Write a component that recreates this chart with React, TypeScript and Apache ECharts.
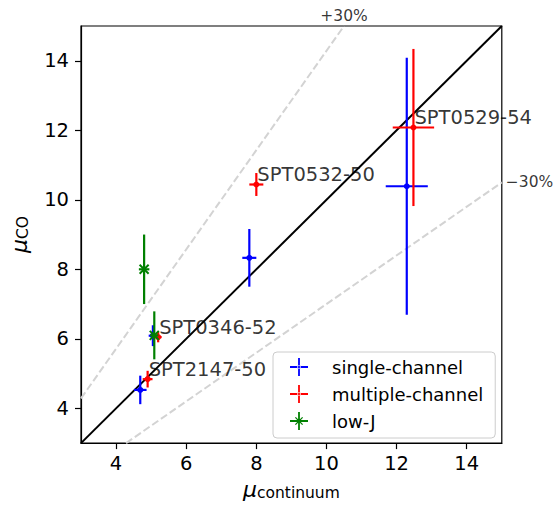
import React, { useEffect, useRef } from "react";
import * as echarts from "echarts";

// Data (x, y, x-error, y-error)
const singleX = [4.69, 5.05, 7.8, 12.29];
const singleY = [4.53, 6.09, 8.33, 10.39];
const singleXErr = [0.18, 0.12, 0.2, 0.6];
const singleYErr = [0.41, 0.3, 0.83, 3.7];

const multiX = [4.9, 5.2, 8.0, 12.48];
const multiY = [4.84, 6.05, 10.44, 12.08];
const multiXErr = [0.14, 0.1, 0.2, 0.59];
const multiYErr = [0.24, 0.15, 0.33, 2.26];

const lowJX = [4.8, 5.09];
const lowJY = [8.0, 6.1];
const lowJXErr = [0.15, 0.12];
const lowJYErr = [1.0, 0.69];

const sourceNames = ["SPT2147-50", "SPT0346-52", "SPT0532-50", "SPT0529-54"];

const tickValues = [4, 6, 8, 10, 12, 14];
const axisMin = 3;
const axisMax = 15;
const refSlopes = [1, 1 / 0.7, 0.7];
const refLabels = ["+30%", "\u221230%"];

const FONT = "DejaVu Sans";

function zip4(a: number[], b: number[], c: number[], d: number[]) {
  return a.map((v, i) => [v, b[i], c[i], d[i]]);
}

function makeErrSeries(name: string, color: string, data: number[][], marker: "dot" | "x") {
  return {
    type: "custom",
    name,
    itemStyle: { color },
    data,
    z: 5,
    renderItem: (params: any, api: any) => {
      const x = api.value(0);
      const y = api.value(1);
      const xe = api.value(2);
      const ye = api.value(3);
      const c = api.coord([x, y]);
      const l = api.coord([x - xe, y]);
      const r = api.coord([x + xe, y]);
      const t = api.coord([x, y + ye]);
      const b = api.coord([x, y - ye]);
      const st = { stroke: color, lineWidth: 2.2 };
      const children: any[] = [
        { type: "line", shape: { x1: l[0], y1: l[1], x2: r[0], y2: r[1] }, style: st },
        { type: "line", shape: { x1: t[0], y1: t[1], x2: b[0], y2: b[1] }, style: st },
      ];
      if (marker === "dot") {
        children.push({ type: "circle", shape: { cx: c[0], cy: c[1], r: 3 }, style: { fill: color } });
      } else {
        const s = 4.5;
        children.push({ type: "line", shape: { x1: c[0] - s, y1: c[1] - s, x2: c[0] + s, y2: c[1] + s }, style: { stroke: color, lineWidth: 2 } });
        children.push({ type: "line", shape: { x1: c[0] - s, y1: c[1] + s, x2: c[0] + s, y2: c[1] - s }, style: { stroke: color, lineWidth: 2 } });
      }
      return { type: "group", children };
    },
  };
}

const plusIcon = "path://M0,9 L20,9 L20,11 L0,11 Z M9,0 L11,0 L11,20 L9,20 Z M8,10 A2,2 0 1 0 12,10 A2,2 0 1 0 8,10 Z";
const starIcon = "path://M0,9 L20,9 L20,11 L0,11 Z M9,0 L11,0 L11,20 L9,20 Z M5.5,6.5 L6.5,5.5 L14.5,13.5 L13.5,14.5 Z M13.5,5.5 L14.5,6.5 L6.5,14.5 L5.5,13.5 Z";

function refLine(s: number) {
  const x0 = Math.max(axisMin, axisMin / s);
  const x1 = Math.min(axisMax, axisMax / s);
  return [
    [x0, x0 * s],
    [x1, x1 * s],
  ];
}

export default function App() {
  const ref = useRef<HTMLDivElement>(null);
  useEffect(() => {
    document.body.style.margin = "0";
    if (!ref.current) return;
    const chart = echarts.init(ref.current, undefined, { renderer: "svg" });
    const upper = refLine(refSlopes[1]);
    const lower = refLine(refSlopes[2]);
    const option: any = {
      animation: false,
      grid: {
        left: 77.5,
        right: 58.2,
        top: 26,
        bottom: 60,
        show: true,
        borderColor: "#000",
        borderWidth: 1.2,
        backgroundColor: "transparent",
      },
      xAxis: {
        type: "value",
        min: axisMin,
        max: axisMax,
        splitLine: { show: false },
        axisLine: { show: true, onZero: false, lineStyle: { color: "#000", width: 1.2 } },
        axisTick: { show: true, customValues: tickValues, length: 6, lineStyle: { color: "#000", width: 1.2 } },
        axisLabel: { customValues: tickValues, color: "#000", fontSize: 19.5, fontFamily: FONT, margin: 10 },
        name: "{m|\u03bc}{s|continuum}",
        nameLocation: "middle",
        nameGap: 33,
        nameTextStyle: {
          rich: {
            m: { fontSize: 22, fontFamily: FONT, fontStyle: "italic", color: "#000" },
            s: { fontSize: 15.5, fontFamily: FONT, color: "#000", padding: [8, 0, 0, 0] },
          },
        },
      },
      yAxis: {
        type: "value",
        min: axisMin,
        max: axisMax,
        splitLine: { show: false },
        axisLine: { show: true, onZero: false, lineStyle: { color: "#000", width: 1.2 } },
        axisTick: { show: true, customValues: tickValues, length: 6, lineStyle: { color: "#000", width: 1.2 } },
        axisLabel: { customValues: tickValues, color: "#000", fontSize: 19.5, fontFamily: FONT, margin: 12 },
        name: "{m|\u03bc}{s|CO}",
        nameLocation: "middle",
        nameRotate: 90,
        nameGap: 50,
        nameTextStyle: {
          rich: {
            m: { fontSize: 22, fontFamily: FONT, fontStyle: "italic", color: "#000" },
            s: { fontSize: 15.5, fontFamily: FONT, color: "#000", padding: [8, 0, 0, 0] },
          },
        },
      },
      legend: {
        orient: "vertical",
        left: 273,
        top: 352,
        padding: [6, 12, 8, 17],
        itemGap: 9,
        itemWidth: 18,
        itemHeight: 18,
        borderColor: "#cccccc",
        borderWidth: 1,
        borderRadius: 4,
        backgroundColor: "rgba(255,255,255,0.8)",
        textStyle: { fontSize: 18, fontFamily: FONT, color: "#000", padding: [0, 0, 0, 19] },
        data: [
          { name: "single-channel", icon: plusIcon },
          { name: "multiple-channel", icon: plusIcon },
          { name: "low-J", icon: starIcon },
        ],
      },
      series: [
        {
          type: "line",
          data: upper,
          symbol: "none",
          silent: true,
          lineStyle: { color: "#d3d3d3", width: 2, type: [7.4, 3.2] },
          z: 1,
        },
        {
          type: "line",
          data: lower,
          symbol: "none",
          silent: true,
          lineStyle: { color: "#d3d3d3", width: 2, type: [7.4, 3.2] },
          z: 1,
        },
        {
          type: "line",
          data: refLine(refSlopes[0]),
          symbol: "none",
          silent: true,
          lineStyle: { color: "#000", width: 2 },
          z: 2,
        },
        makeErrSeries("single-channel", "#0000ff", zip4(singleX, singleY, singleXErr, singleYErr), "dot"),
        makeErrSeries("multiple-channel", "#ff0000", zip4(multiX, multiY, multiXErr, multiYErr), "dot"),
        makeErrSeries("low-J", "#008000", zip4(lowJX, lowJY, lowJXErr, lowJYErr), "x"),
        {
          type: "scatter",
          silent: true,
          symbolSize: 0,
          itemStyle: { color: "transparent" },
          z: 10,
          data: multiX.map((x, i) => ({ value: [x, multiY[i]], name: sourceNames[i] })),
          label: {
            show: true,
            formatter: (p: any) => p.name,
            position: [1, -10],
            align: "left",
            verticalAlign: "middle",
            fontSize: 19.5,
            fontFamily: FONT,
            color: "#000",
          },
        },
        {
          type: "scatter",
          silent: true,
          symbolSize: 0,
          clip: false,
          itemStyle: { color: "transparent" },
          data: [
            { value: upper[1], name: refLabels[0], label: { position: "top", distance: 2 } },
            { value: lower[1], name: refLabels[1], label: { position: "right", distance: 4 } },
          ],
          label: {
            show: true,
            formatter: (p: any) => p.name,
            fontSize: 15.5,
            fontFamily: FONT,
            color: "#000",
          },
        },
      ],
    };
    chart.setOption(option);
    return () => chart.dispose();
  }, []);
  return <div ref={ref} style={{ width: 560, height: 506 }} />;
}
